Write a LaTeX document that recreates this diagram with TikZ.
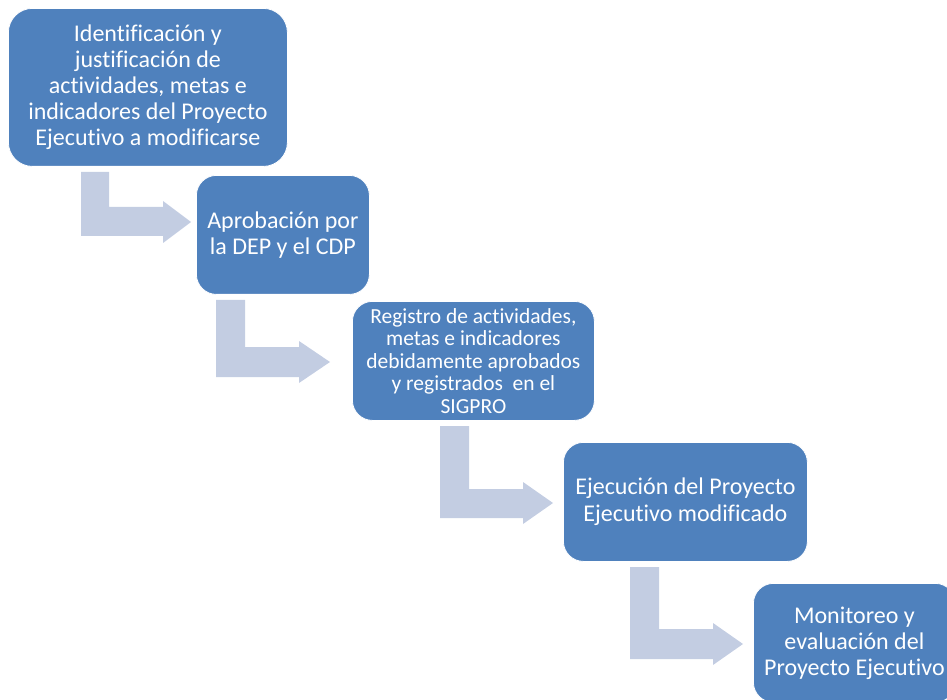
\documentclass[tikz,border=0pt]{standalone}
\usepackage{fontspec}
\setmainfont[Ligatures=NoCommon]{Carlito}
\definecolor{boxblue}{RGB}{79,129,189}
\definecolor{arrowgrey}{RGB}{195,205,226}
\begin{document}
\begin{tikzpicture}[x=1pt,y=-1pt,
  stepbox/.style={rectangle, rounded corners=20pt, fill=boxblue, draw=white, line width=0.8pt,
    text=white, align=center, inner sep=0pt, anchor=north west, font=\fontsize{24}{26}\selectfont},
  bentarrow/.style={fill=arrowgrey, draw=none}]
\useasboundingbox (0,0) rectangle (947,700);
\node[stepbox, minimum width=279pt, minimum height=158pt, rounded corners=24pt] (b1) at (8,8)
  {Identificación y\\justificación de\\actividades, metas e\\indicadores del Proyecto\\Ejecutivo a modificarse};
\node[stepbox, minimum width=173pt, minimum height=119pt] (b2) at (196,175)
  {Aprobación por\\la DEP y el CDP};
\node[stepbox, minimum width=242pt, minimum height=119pt, font=\fontsize{21.5}{22.5}\selectfont] (b3) at (352,301)
  {Registro de actividades,\\metas e indicadores\\debidamente aprobados\\y registrados\ \ en el\\SIGPRO};
\node[stepbox, minimum width=244pt, minimum height=119pt, font=\fontsize{24}{27}\selectfont] (b4) at (563,442)
  {Ejecución del Proyecto\\Ejecutivo modificado};
\node[stepbox, minimum width=202pt, minimum height=119pt] (b5) at (753,583)
  {Monitoreo y\\evaluación del\\Proyecto Ejecutivo};
% bent arrows
\fill[bentarrow] (81,172) -- (109,172) -- (109,207) -- (163,207) -- (163,201) -- (191,222) -- (163,243) -- (163,236) -- (81,236) -- cycle;
\fill[bentarrow] (216,300) -- (245,300) -- (245,347) -- (299,347) -- (299,341) -- (330,362) -- (299,383) -- (299,377) -- (216,377) -- cycle;
\fill[bentarrow] (440,426) -- (469,426) -- (469,489) -- (523,489) -- (523,482) -- (553,503) -- (523,524) -- (523,518) -- (440,518) -- cycle;
\fill[bentarrow] (630,567) -- (659,567) -- (659,629) -- (713,629) -- (713,623) -- (743,644) -- (713,665) -- (713,659) -- (630,659) -- cycle;
\end{tikzpicture}
\end{document}
